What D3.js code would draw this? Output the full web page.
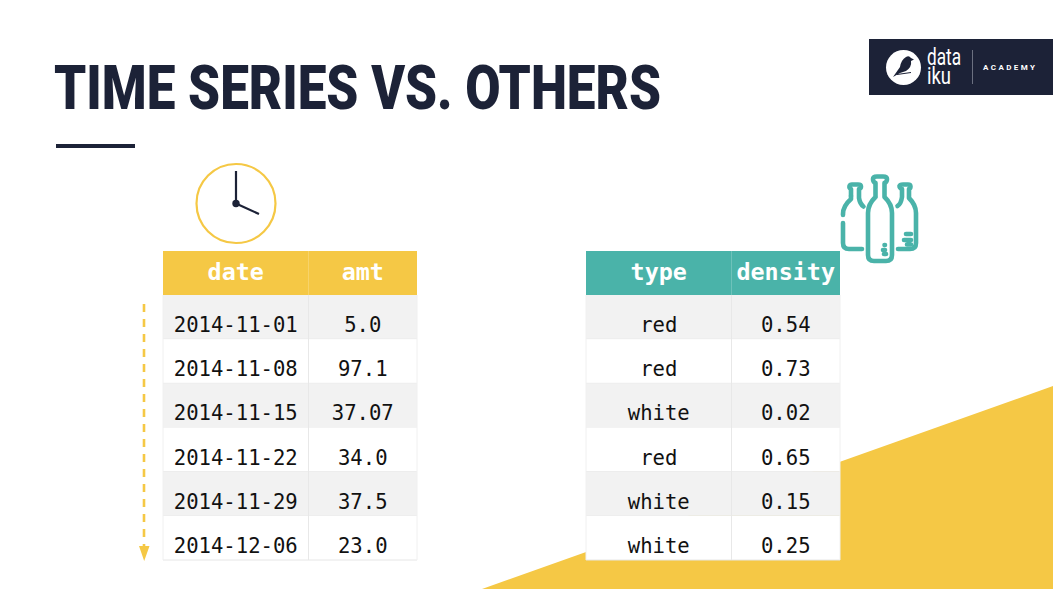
<!DOCTYPE HTML>
<html>
<head>
    <meta http-equiv="content-type" content="text/html; charset=UTF-8">
    <title>Time series vs. others</title>
    <script src="https://cdn.jsdelivr.net/npm/d3@7/dist/d3.min.js"></script>
    <style>
        html, body { margin: 0; padding: 0; background: #fff; overflow: hidden; }
        svg { display: block; }
    </style>
</head>
<body>
<script>
    var dates = ['2014-11-01', '2014-11-08', '2014-11-15', '2014-11-22', '2014-11-29', '2014-12-06'];
    var amts = ['5.0', '97.1', '37.07', '34.0', '37.5', '23.0'];
    var types = ['red', 'red', 'white', 'red', 'white', 'white'];
    var densities = ['0.54', '0.73', '0.02', '0.65', '0.15', '0.25'];

    var yellow = '#f5c845', teal = '#4ab3a9', navy = '#1c2237';
    var mono = '"DejaVu Sans Mono", "Liberation Mono", monospace';

    var svg = d3.select('body').append('svg').attr('width', 1053).attr('height', 589);

    // yellow corner behind the right table
    svg.append('path').attr('d', 'M482,589 L1053,386 L1053,589 Z').style('fill', yellow);

    // title
    svg.append('text').attr('x', 54).attr('y', 109)
        .attr('textLength', 607).attr('lengthAdjust', 'spacingAndGlyphs')
        .style('font-family', 'Roboto').style('font-weight', 900).style('font-size', '61px')
        .style('fill', navy).text('TIME SERIES VS. OTHERS');
    svg.append('rect').attr('x', 56).attr('y', 144).attr('width', 79).attr('height', 4).style('fill', navy);

    var rowIdx = d3.range(6);
    var yRow = d3.scaleBand().domain(rowIdx).range([295, 560]);

    function drawTable(x0, x1, x2, head, col1, col2, color) {
        var g = svg.append('g');
        var colX = [x0, x1, x2];
        var rows = g.selectAll('g.row').data(rowIdx).enter().append('g').attr('class', 'row');
        rows.append('rect').attr('x', x0).attr('y', function (d) { return yRow(d); })
            .attr('width', x2 - x0).attr('height', yRow.bandwidth())
            .style('fill', function (d) { return d % 2 ? '#ffffff' : '#f2f2f2'; });
        rows.append('line').attr('x1', x0).attr('x2', x2)
            .attr('y1', function (d) { return yRow(d) + yRow.bandwidth(); })
            .attr('y2', function (d) { return yRow(d) + yRow.bandwidth(); })
            .style('stroke', '#e6e6e6');
        colX.forEach(function (x) {
            g.append('line').attr('x1', x).attr('x2', x).attr('y1', 295).attr('y2', 560)
                .style('stroke', x === x1 ? '#e8e8e8' : '#f0f0f0');
        });
        g.append('rect').attr('x', x0).attr('y', 251).attr('width', x2 - x0).attr('height', 44).style('fill', color);
        g.append('line').attr('x1', x1).attr('x2', x1).attr('y1', 251).attr('y2', 295)
            .style('stroke', '#ffffff').style('stroke-opacity', 0.2);

        var mid = [(x0 + x1) / 2, (x1 + x2) / 2];
        head.forEach(function (h, i) {
            g.append('text').attr('x', mid[i]).attr('y', 280).attr('text-anchor', 'middle')
                .style('font-family', mono).style('font-weight', 700).style('font-size', '23.4px')
                .style('fill', '#fff').text(h);
        });
        [col1, col2].forEach(function (col, i) {
            g.selectAll('text.c' + i).data(col).enter().append('text').attr('class', 'c' + i)
                .attr('x', mid[i])
                .attr('y', function (d, r) { return yRow(r) + 37; })
                .attr('text-anchor', 'middle')
                .style('font-family', mono).style('font-size', '20.6px').style('fill', '#111')
                .text(function (d) { return d; });
        });
    }
    drawTable(163, 308.5, 417, ['date', 'amt'], dates, amts, yellow);
    drawTable(586, 731.5, 840, ['type', 'density'], types, densities, teal);

    // time arrow
    svg.append('line').attr('x1', 144).attr('x2', 144).attr('y1', 304).attr('y2', 547)
        .style('stroke', yellow).style('stroke-width', 2.6).style('stroke-dasharray', '8 7');
    svg.append('path').attr('d', 'M139,546 L149.5,546 L144.2,561 Z').style('fill', yellow);

    // clock
    var clock = svg.append('g');
    clock.append('circle').attr('cx', 236).attr('cy', 203.5).attr('r', 39.5)
        .style('fill', '#fff').style('stroke', yellow).style('stroke-width', 2.2);
    clock.append('path').attr('d', 'M236,171 L236,203.5 L259,214')
        .style('fill', 'none').style('stroke', navy).style('stroke-width', 2.2);
    clock.append('circle').attr('cx', 236).attr('cy', 203.5).attr('r', 3.7).style('fill', navy);

    // bottles
    var bottles = svg.append('g').style('fill', 'none').style('stroke', teal)
        .style('stroke-width', 4.6).style('stroke-linecap', 'round').style('stroke-linejoin', 'round');
    [
        'M875.5,197 L875.5,183 Q873,182 873,179 Q873,176.5 877,176.5 L883,176.5 Q887,176.5 887,179 Q887,182 884.5,183 L884.5,197 Q892,204 892,213 L892,255 Q892,261 886,261 L874,261 Q868,261 868,255 L868,213 Q868,204 875.5,197',
        'M851,196 L851,189 Q849,188 849.5,186 Q850,184.5 852,184.5 L858,184.5 Q861,184.5 861,186.5 Q861,188.5 859,189 L859,198 Q860,204 863.5,206.5',
        'M851,196 L851,199 Q843,206 843,214 L843,215',
        'M843,223 L843,243 Q843,249 849,249 L862,249',
        'M897.5,206 Q901,204 902,197 L902,189 Q899.5,188 899.5,186 Q900,184.5 903,184.5 L908,184.5 Q910.5,184.5 910.5,186.5 Q910.5,188.5 909,189 L909,198 Q916,205 916,213 L916,243 Q916,249 910,249 L898,249',
        'M906,234 L911,234 M904,240 L911,240 M907,244.5 L911,244.5',
        'M885,245 L884.5,245 M883,250 L885,250 M884,254 L886,254'
    ].forEach(function (d) { bottles.append('path').attr('d', d); });

    // logo
    var logo = svg.append('g');
    logo.append('rect').attr('x', 869).attr('y', 39).attr('width', 184).attr('height', 56).style('fill', navy);
    logo.append('circle').attr('cx', 903.5).attr('cy', 67.5).attr('r', 17.5).style('fill', '#fff');
    logo.append('path')
        .attr('d', 'M893,77 L900,67 Q901,60 906,57 Q909,55 911,58 L914,59.5 L911,61 Q912,67 906,71 L900,73 Z')
        .style('fill', navy);
    logo.append('line').attr('x1', 897).attr('x2', 911).attr('y1', 74.5).attr('y2', 72.5)
        .style('stroke', navy).style('stroke-width', 1);
    [['data', 65, 34], ['iku', 83.5, 24]].forEach(function (t) {
        logo.append('text').attr('x', 927).attr('y', t[1])
            .attr('textLength', t[2]).attr('lengthAdjust', 'spacingAndGlyphs')
            .style('font-family', 'Roboto').style('font-size', '23px').style('fill', '#fff').text(t[0]);
    });
    logo.append('line').attr('x1', 972.5).attr('x2', 972.5).attr('y1', 50).attr('y2', 84)
        .style('stroke', '#6b7080');
    logo.append('text').attr('x', 983).attr('y', 70)
        .attr('textLength', 52)
        .style('font-family', 'Roboto').style('font-weight', 700).style('font-size', '8px')
        .style('fill', '#fff').text('ACADEMY');
</script>
</body>
</html>
